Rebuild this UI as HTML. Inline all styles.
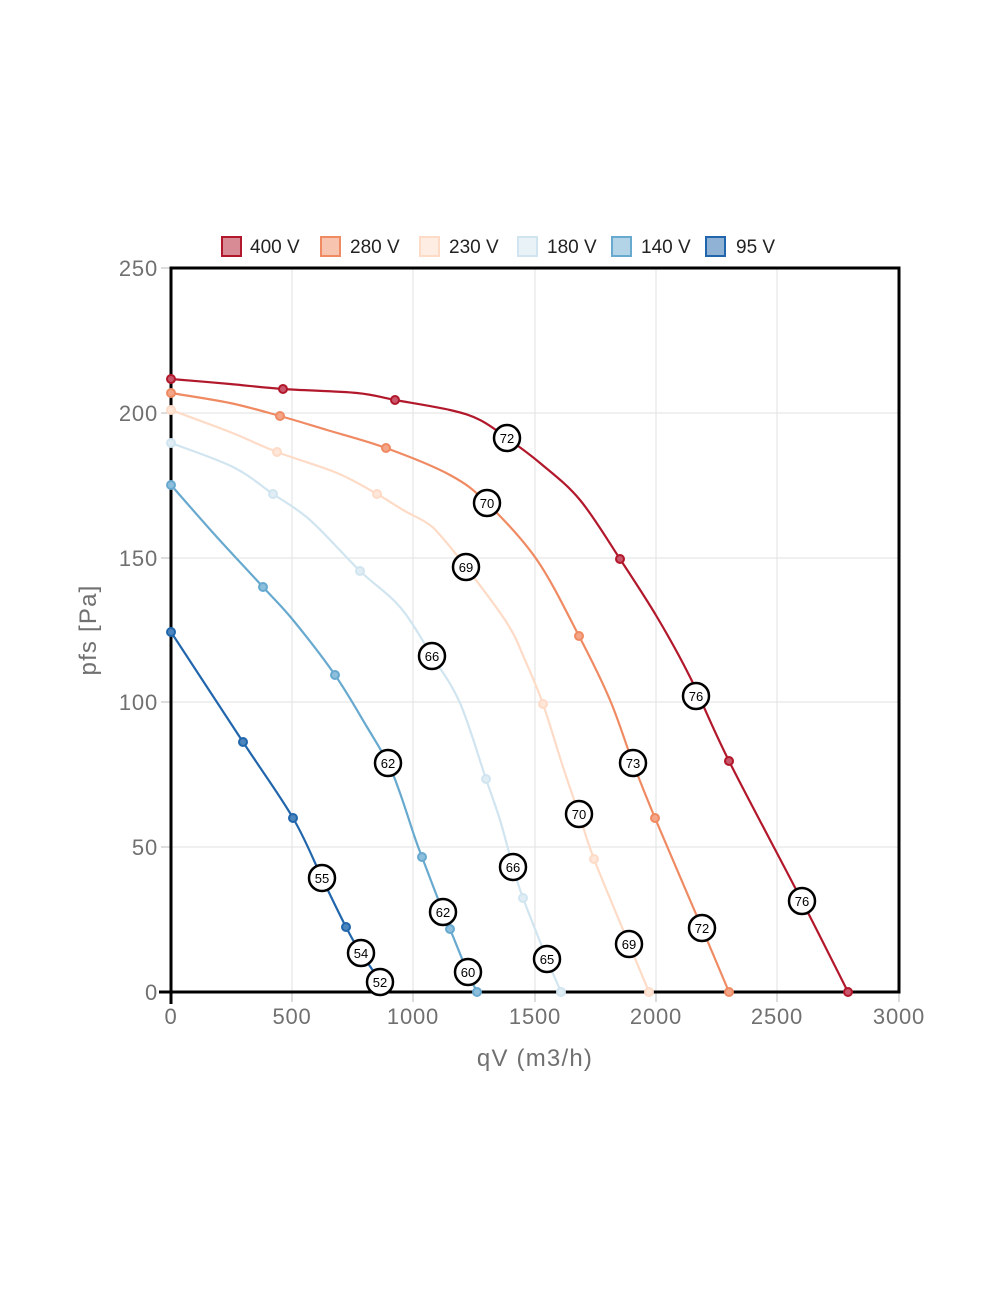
<!DOCTYPE html>
<html><head><meta charset="utf-8"><style>
html,body{margin:0;padding:0;background:#fff;}
svg{display:block;}
.tk{font-family:"Liberation Sans",sans-serif;font-size:22px;fill:#707070;letter-spacing:0.8px;}
.lg{font-family:"Liberation Sans",sans-serif;font-size:19px;fill:#222;}
.lb{font-family:"Liberation Sans",sans-serif;font-size:13px;fill:#000;text-anchor:middle;}
.ttl{font-family:"Liberation Sans",sans-serif;font-size:24px;fill:#707070;letter-spacing:1.2px;}
</style></head><body>
<svg width="1000" height="1300" viewBox="0 0 1000 1300" xmlns="http://www.w3.org/2000/svg">
<rect width="1000" height="1300" fill="#fff"/>
<!-- grid -->
<g stroke="#e2e2e2" stroke-width="1">
<line x1="292" y1="268" x2="292" y2="992"/>
<line x1="413" y1="268" x2="413" y2="992"/>
<line x1="535" y1="268" x2="535" y2="992"/>
<line x1="656" y1="268" x2="656" y2="992"/>
<line x1="777" y1="268" x2="777" y2="992"/>
<line x1="171" y1="413" x2="899" y2="413"/>
<line x1="171" y1="558" x2="899" y2="558"/>
<line x1="171" y1="702" x2="899" y2="702"/>
<line x1="171" y1="847" x2="899" y2="847"/>
</g>
<!-- grey ticks -->
<g stroke="#bbb" stroke-width="1">
<line x1="161" y1="268" x2="171" y2="268"/>
<line x1="161" y1="413" x2="171" y2="413"/>
<line x1="161" y1="558" x2="171" y2="558"/>
<line x1="161" y1="702" x2="171" y2="702"/>
<line x1="161" y1="847" x2="171" y2="847"/>
<line x1="292" y1="992" x2="292" y2="1002"/>
<line x1="413" y1="992" x2="413" y2="1002"/>
<line x1="535" y1="992" x2="535" y2="1002"/>
<line x1="656" y1="992" x2="656" y2="1002"/>
<line x1="777" y1="992" x2="777" y2="1002"/>
<line x1="899" y1="992" x2="899" y2="1002"/>
</g>
<!-- frame -->
<rect x="171" y="268" width="728" height="724" fill="none" stroke="#000" stroke-width="3"/>
<line x1="171" y1="992" x2="171" y2="1004" stroke="#000" stroke-width="3"/>
<line x1="159" y1="992" x2="171" y2="992" stroke="#000" stroke-width="3"/>

<!-- tick labels -->
<g class="tk" text-anchor="end">
<text x="158" y="276">250</text>
<text x="158" y="421">200</text>
<text x="158" y="566">150</text>
<text x="158" y="710">100</text>
<text x="158" y="855">50</text>
<text x="158" y="1000">0</text>
</g>
<g class="tk" text-anchor="middle">
<text x="171" y="1024">0</text>
<text x="292" y="1024">500</text>
<text x="413" y="1024">1000</text>
<text x="535" y="1024">1500</text>
<text x="656" y="1024">2000</text>
<text x="777" y="1024">2500</text>
<text x="899" y="1024">3000</text>
</g>
<text class="ttl" x="535" y="1066" text-anchor="middle">qV (m3/h)</text>
<text class="ttl" transform="translate(96,630) rotate(-90)" text-anchor="middle">pfs [Pa]</text>

<!-- legend -->
<g stroke-width="2">
<rect x="222" y="237" width="19" height="19" fill="#d88a95" stroke="#b2182b"/>
<rect x="321" y="237" width="19" height="19" fill="#f7c4b0" stroke="#ef8a62"/>
<rect x="420" y="237" width="19" height="19" fill="#feede3" stroke="#fddbc7"/>
<rect x="518" y="237" width="19" height="19" fill="#e8f2f7" stroke="#d1e5f0"/>
<rect x="612" y="237" width="19" height="19" fill="#b3d4e7" stroke="#67a9cf"/>
<rect x="706" y="237" width="19" height="19" fill="#90b2d5" stroke="#2166ac"/>
</g>
<g class="lg">
<text x="250" y="253">400 V</text>
<text x="350" y="253">280 V</text>
<text x="449" y="253">230 V</text>
<text x="547" y="253">180 V</text>
<text x="641" y="253">140 V</text>
<text x="736" y="253">95 V</text>
</g>

<!-- curves -->
<g id="curves" fill="none" stroke-width="2.2" stroke-linejoin="round" stroke-linecap="round">
<polyline stroke="#b2182b" points="171,379 230,384 283,389 357,393 395,400 450,410 480,420 507,438 540,463 580,500 620,559 657,617 690,677 729,761 802,901 848,992"/>
<polyline stroke="#ef8a62" points="171,393 230,403 280,416 327,430 386,448 450,475 487,503 537,560 579,636 610,700 633,763 655,818 702,928 729,992"/>
<polyline stroke="#fddbc7" points="171,410 230,432 277,452 337,473 377,494 403,510 427,523 440,535 466,567 507,623 525,660 543,704 563,767 579,814 594,859 629,944 649,992"/>
<polyline stroke="#d1e5f0" points="171,443 233,467 273,494 310,520 360,571 400,607 432,656 460,703 486,779 500,820 513,867 523,898 547,959 561,992"/>
<polyline stroke="#67a9cf" points="171,485 215,535 263,587 293,620 335,675 367,727 388,763 400,793 415,838 422,857 443,912 450,929 468,973 477,992"/>
<polyline stroke="#2166ac" points="171,632 243,742 293,818 322,878 346,927 361,953 388,992"/>
</g>

<!-- markers -->
<g stroke-width="2">
<g fill="#c9566a" stroke="#b2182b">
<circle cx="171" cy="379" r="4"/><circle cx="283" cy="389" r="4"/><circle cx="395" cy="400" r="4"/><circle cx="620" cy="559" r="4"/><circle cx="729" cy="761" r="4"/><circle cx="848" cy="992" r="4"/>
</g>
<g fill="#f3a688" stroke="#ef8a62">
<circle cx="171" cy="393" r="4"/><circle cx="280" cy="416" r="4"/><circle cx="386" cy="448" r="4"/><circle cx="579" cy="636" r="4"/><circle cx="655" cy="818" r="4"/><circle cx="729" cy="992" r="4"/>
</g>
<g fill="#fee6d8" stroke="#fddbc7">
<circle cx="171" cy="410" r="4"/><circle cx="277" cy="452" r="4"/><circle cx="377" cy="494" r="4"/><circle cx="543" cy="704" r="4"/><circle cx="594" cy="859" r="4"/><circle cx="649" cy="992" r="4"/>
</g>
<g fill="#e0edf5" stroke="#d1e5f0">
<circle cx="171" cy="443" r="4"/><circle cx="273" cy="494" r="4"/><circle cx="360" cy="571" r="4"/><circle cx="486" cy="779" r="4"/><circle cx="523" cy="898" r="4"/><circle cx="561" cy="992" r="4"/>
</g>
<g fill="#8dbfdc" stroke="#67a9cf">
<circle cx="171" cy="485" r="4"/><circle cx="263" cy="587" r="4"/><circle cx="335" cy="675" r="4"/><circle cx="422" cy="857" r="4"/><circle cx="450" cy="929" r="4"/><circle cx="477" cy="992" r="4"/>
</g>
<g fill="#4d85bd" stroke="#2166ac">
<circle cx="171" cy="632" r="4"/><circle cx="243" cy="742" r="4"/><circle cx="293" cy="818" r="4"/><circle cx="346" cy="927" r="4"/>
</g>
</g>

<!-- labels -->
<g fill="#fff" stroke="#000" stroke-width="2.5">
<circle cx="507" cy="438" r="13"/><circle cx="696" cy="696" r="13"/><circle cx="802" cy="901" r="13"/>
<circle cx="487" cy="503" r="13"/><circle cx="633" cy="763" r="13"/><circle cx="702" cy="928" r="13"/>
<circle cx="466" cy="567" r="13"/><circle cx="579" cy="814" r="13"/><circle cx="629" cy="944" r="13"/>
<circle cx="432" cy="656" r="13"/><circle cx="513" cy="867" r="13"/><circle cx="547" cy="959" r="13"/>
<circle cx="388" cy="763" r="13"/><circle cx="443" cy="912" r="13"/><circle cx="468" cy="972" r="13"/>
<circle cx="322" cy="878" r="13"/><circle cx="361" cy="953" r="13"/><circle cx="380" cy="982" r="13"/>
</g>
<g class="lb">
<text x="507" y="443">72</text><text x="696" y="701">76</text><text x="802" y="906">76</text>
<text x="487" y="508">70</text><text x="633" y="768">73</text><text x="702" y="933">72</text>
<text x="466" y="572">69</text><text x="579" y="819">70</text><text x="629" y="949">69</text>
<text x="432" y="661">66</text><text x="513" y="872">66</text><text x="547" y="964">65</text>
<text x="388" y="768">62</text><text x="443" y="917">62</text><text x="468" y="977">60</text>
<text x="322" y="883">55</text><text x="361" y="958">54</text><text x="380" y="987">52</text>
</g>
</svg>
<script>
(function(){
try{
var ns="http://www.w3.org/2000/svg";
var pls=document.querySelectorAll("#curves polyline");
for(var i=0;i<pls.length;i++){
var pl=pls[i];
var pts=pl.getAttribute("points").trim().split(/\s+/).map(function(s){var a=s.split(",");return [parseFloat(a[0]),parseFloat(a[1])];});
var d="M"+pts[0][0]+","+pts[0][1];
for(var k=0;k<pts.length-1;k++){
var p0=pts[k>0?k-1:k],p1=pts[k],p2=pts[k+1],p3=pts[k+2<pts.length?k+2:k+1];
var t=0.5/3;
var c1x=p1[0]+(p2[0]-p0[0])*t,c1y=p1[1]+(p2[1]-p0[1])*t;
var c2x=p2[0]-(p3[0]-p1[0])*t,c2y=p2[1]-(p3[1]-p1[1])*t;
d+=" C"+c1x.toFixed(1)+","+c1y.toFixed(1)+" "+c2x.toFixed(1)+","+c2y.toFixed(1)+" "+p2[0]+","+p2[1];
}
var p=document.createElementNS(ns,"path");
p.setAttribute("d",d);
p.setAttribute("stroke",pl.getAttribute("stroke"));
pl.parentNode.replaceChild(p,pl);
}
}catch(e){}
})();
</script>
</body></html>
